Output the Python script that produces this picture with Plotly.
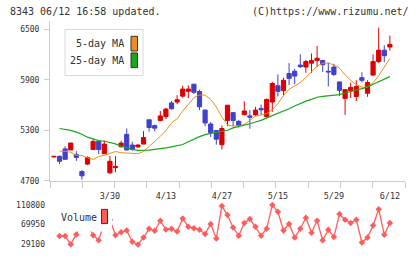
import plotly.graph_objects as go

# ---- data ----
tick_labels = ["3/30", "4/13", "4/27", "5/15", "5/29", "6/12"]
tick_index = [10, 20, 30, 40, 50, 60]

opens = [4985, 4992, 5081, 5069, 5015, 4811, 4900, 5073, 5170, 5023,
         4796, 4858, 5107, 5254, 5127, 5104, 5138, 5427, 5358, 5419,
         5465, 5627, 5638, 5708, 5765, 5850, 5762, 5542, 5377, 5300,
         5131, 5419, 5512, 5408, 5488, 5473, 5485, 5562, 5465, 5638,
         5831, 5773, 5977, 6004, 6077, 6054, 6100, 6131, 6131, 6004,
         6054, 5877, 5681, 5773, 5704, 5927, 5742, 5958, 6119, 6254, 6292]
highs = [4992, 5003, 5112, 5155, 5054, 4830, 4992, 5196, 5170, 5181,
         4996, 4996, 5177, 5323, 5165, 5135, 5292, 5427, 5370, 5531,
         5569, 5650, 5719, 5831, 5835, 5850, 5785, 5550, 5400, 5300,
         5358, 5600, 5512, 5427, 5646, 5542, 5580, 5608, 5680, 5877,
         5966, 5927, 6100, 6031, 6204, 6139, 6215, 6304, 6139, 6108,
         6093, 5877, 5785, 5869, 5896, 5992, 5896, 6204, 6523, 6312, 6427]
lows = [4985, 4900, 4957, 5065, 4939, 4715, 4888, 5073, 5020, 5023,
        4784, 4804, 5096, 5060, 5060, 5096, 5138, 5285, 5289, 5410,
        5435, 5550, 5612, 5690, 5685, 5735, 5542, 5350, 5223, 5131,
        5073, 5350, 5350, 5335, 5480, 5320, 5473, 5488, 5450, 5523,
        5704, 5715, 5838, 5850, 6042, 5985, 5985, 6054, 5996, 5823,
        5946, 5712, 5485, 5685, 5650, 5869, 5700, 5950, 6100, 6112, 6250]
closes = [4992, 4934, 4957, 5150, 4980, 4761, 4977, 5170, 5073, 5138,
          4934, 4873, 5150, 5069, 5073, 5127, 5215, 5335, 5327, 5473,
          5554, 5558, 5665, 5792, 5792, 5754, 5581, 5389, 5273, 5196,
          5323, 5600, 5419, 5362, 5531, 5458, 5542, 5546, 5669, 5858,
          5765, 5896, 5919, 5946, 6058, 6119, 6131, 6158, 6081, 5996,
          5966, 5777, 5785, 5812, 5823, 5896, 5869, 6119, 6254, 6189, 6323]

ma5 = [None, 5054, 5054, 5040, 5004, 5004, 4975, 4957, 4990, 5004,
       5030, 5050, 5035, 5030, 5030, 5025, 5050, 5115, 5170, 5230,
       5300, 5390, 5440, 5530, 5610, 5690, 5723, 5720, 5670, 5580,
       5460, 5365, 5352, 5355, 5370, 5420, 5470, 5485, 5500, 5545,
       5620, 5715, 5790, 5830, 5870, 5930, 6000, 6065, 6100, 6100,
       6080, 6040, 5960, 5895, 5845, 5815, 5815, 5869, 5950, 6050, 6155]
ma25 = [None, 5323, 5315, 5300, 5280, 5255, 5220, 5200, 5180, 5172,
        5160, 5140, 5112, 5090, 5075, 5063, 5061, 5066, 5075, 5081,
        5092, 5105, 5119, 5133, 5165, 5200, 5227, 5250, 5270, 5281,
        5290, 5302, 5330, 5345, 5360, 5380, 5400, 5420, 5450, 5475,
        5500, 5525, 5558, 5590, 5620, 5648, 5670, 5695, 5706, 5712,
        5718, 5727, 5745, 5762, 5780, 5795, 5815, 5850, 5880, 5910, 5940]

volume = [None, 46100, 46100, 29100, 49500, 76000, 72000, 47500, 37300, 74000,
          80000, 47500, 54200, 57700, 34000, 28500, 42800, 61200, 57100, 78100,
          59700, 61200, 55700, 82800, 65300, 62400, 59100, 50100, 71400, 40700,
          108800, 89800, 63800, 46900, 73400, 81600, 65300, 46900, 61200, 110800,
          96500, 57700, 71400, 42800, 61200, 84300, 53000, 78100, 37300, 59100,
          44000, 91800, 80200, 73400, 80200, 32600, 42800, 67900, 102000, 48900, 73400]

price_ticks = [4700, 5300, 5900, 6500]
vol_ticks = [29100, 69950, 110800]

idx = list(range(len(closes)))

RED = "#dd0000"
BLUE = "#4040c8"
ORANGE = "#f08c1e"
GREEN = "#18a818"
VOLC = "#ff5c5c"
AXC = "#cccccc"
TXT = "#333333"
FONT = "DejaVu Sans Mono"

fig = go.Figure()
fig.add_trace(go.Candlestick(
    x=idx, open=opens, high=highs, low=lows, close=closes,
    increasing=dict(line=dict(color=RED, width=1), fillcolor=RED),
    decreasing=dict(line=dict(color=BLUE, width=1), fillcolor=BLUE),
    whiskerwidth=0, showlegend=False, xaxis="x", yaxis="y"))
fig.add_trace(go.Scatter(x=idx, y=ma5, mode="lines", line=dict(color=ORANGE, width=1),
                         showlegend=False, xaxis="x", yaxis="y"))
fig.add_trace(go.Scatter(x=idx, y=ma25, mode="lines", line=dict(color=GREEN, width=1.2),
                         showlegend=False, xaxis="x", yaxis="y"))
fig.add_trace(go.Scatter(x=idx, y=volume, mode="lines+markers",
                         line=dict(color=VOLC, width=1.3),
                         marker=dict(symbol="diamond", size=5, color=VOLC),
                         connectgaps=False, showlegend=False, xaxis="x", yaxis="y2"))

H = 259.0
def py(px):
    return (H - px) / H

def px_x(px):
    return (px - 50) / 355.0

xr0, xr1 = -0.7, 62.7
fig.update_layout(
    width=420, height=259,
    margin=dict(l=50, r=15, t=0, b=0),
    paper_bgcolor="white", plot_bgcolor="white",
    boxgap=0.25, boxgroupgap=0,
    xaxis=dict(range=[xr0, xr1], domain=[0, 1], anchor="y",
               showline=True, linecolor=AXC, linewidth=1,
               showgrid=False, zeroline=False,
               tickmode="array", tickvals=tick_index, ticktext=tick_labels,
               ticks="outside", ticklen=7, tickcolor="rgba(0,0,0,0)",
               minor=dict(ticks="outside", ticklen=6, tickcolor=AXC,
                          tick0=xr0, dtick=(xr1 - xr0) / 11, showgrid=False),
               tickfont=dict(family=FONT, size=8.5, color=TXT),
               rangeslider=dict(visible=False), fixedrange=True),
    yaxis=dict(domain=[py(184.5), py(21.5)], range=[4700, 6600],
               tickmode="array", tickvals=price_ticks,
               ticks="outside", ticklen=5, tickcolor=AXC,
               showline=True, linecolor=AXC, linewidth=1,
               showgrid=False, zeroline=False, ticklabelstandoff=3,
               tickfont=dict(family=FONT, size=8, color=TXT), fixedrange=True),
    yaxis2=dict(domain=[py(255), py(205)], range=[16845, 118970], anchor="x",
                tickmode="array", tickvals=vol_ticks, ticktext=[str(v) for v in vol_ticks],
                ticks="", showline=False, showgrid=False, zeroline=False,
                ticklabelstandoff=4,
                tickfont=dict(family=FONT, size=8, color=TXT), fixedrange=True),
)

# header texts
fig.add_annotation(xref="paper", yref="paper", x=px_x(8), y=py(12), xanchor="left", yanchor="middle",
                   text="8343 06/12 16:58 updated.", showarrow=False,
                   font=dict(family=FONT, size=10, color=TXT))
fig.add_annotation(xref="paper", yref="paper", x=px_x(411), y=py(12), xanchor="right", yanchor="middle",
                   text="(C)https://www.rizumu.net/", showarrow=False,
                   font=dict(family=FONT, size=10, color=TXT))

# main legend box
fig.add_shape(type="rect", xref="paper", yref="paper",
              x0=px_x(65), x1=px_x(143), y0=py(77), y1=py(30),
              line=dict(color="#d8d8d8", width=1), fillcolor="white", layer="above")
for label, col, yc in [("5-day MA", ORANGE, 44.5), ("25-day MA", GREEN, 61.5)]:
    fig.add_annotation(xref="paper", yref="paper", x=px_x(126), y=py(yc), xanchor="right", yanchor="middle",
                       text=label, showarrow=False, font=dict(family=FONT, size=10, color=TXT))
    fig.add_shape(type="rect", xref="paper", yref="paper",
                  x0=px_x(131), x1=px_x(137.5), y0=py(yc + 7.5), y1=py(yc - 7.5),
                  line=dict(color=TXT, width=1), fillcolor=col, layer="above")

# volume legend
fig.add_shape(type="rect", xref="paper", yref="paper",
              x0=px_x(56), x1=px_x(112), y0=py(236), y1=py(209),
              line=dict(width=0), fillcolor="white", layer="above")
fig.add_annotation(xref="paper", yref="paper", x=px_x(59), y=py(222), xanchor="left", yanchor="middle",
                   text="Volume", showarrow=False, font=dict(family=FONT, size=10, color=TXT))
fig.add_shape(type="rect", xref="paper", yref="paper",
              x0=px_x(101.5), x1=px_x(107.5), y0=py(228), y1=py(213.5),
              line=dict(color=TXT, width=1), fillcolor=VOLC, layer="above")

fig.write_html("out.html")
